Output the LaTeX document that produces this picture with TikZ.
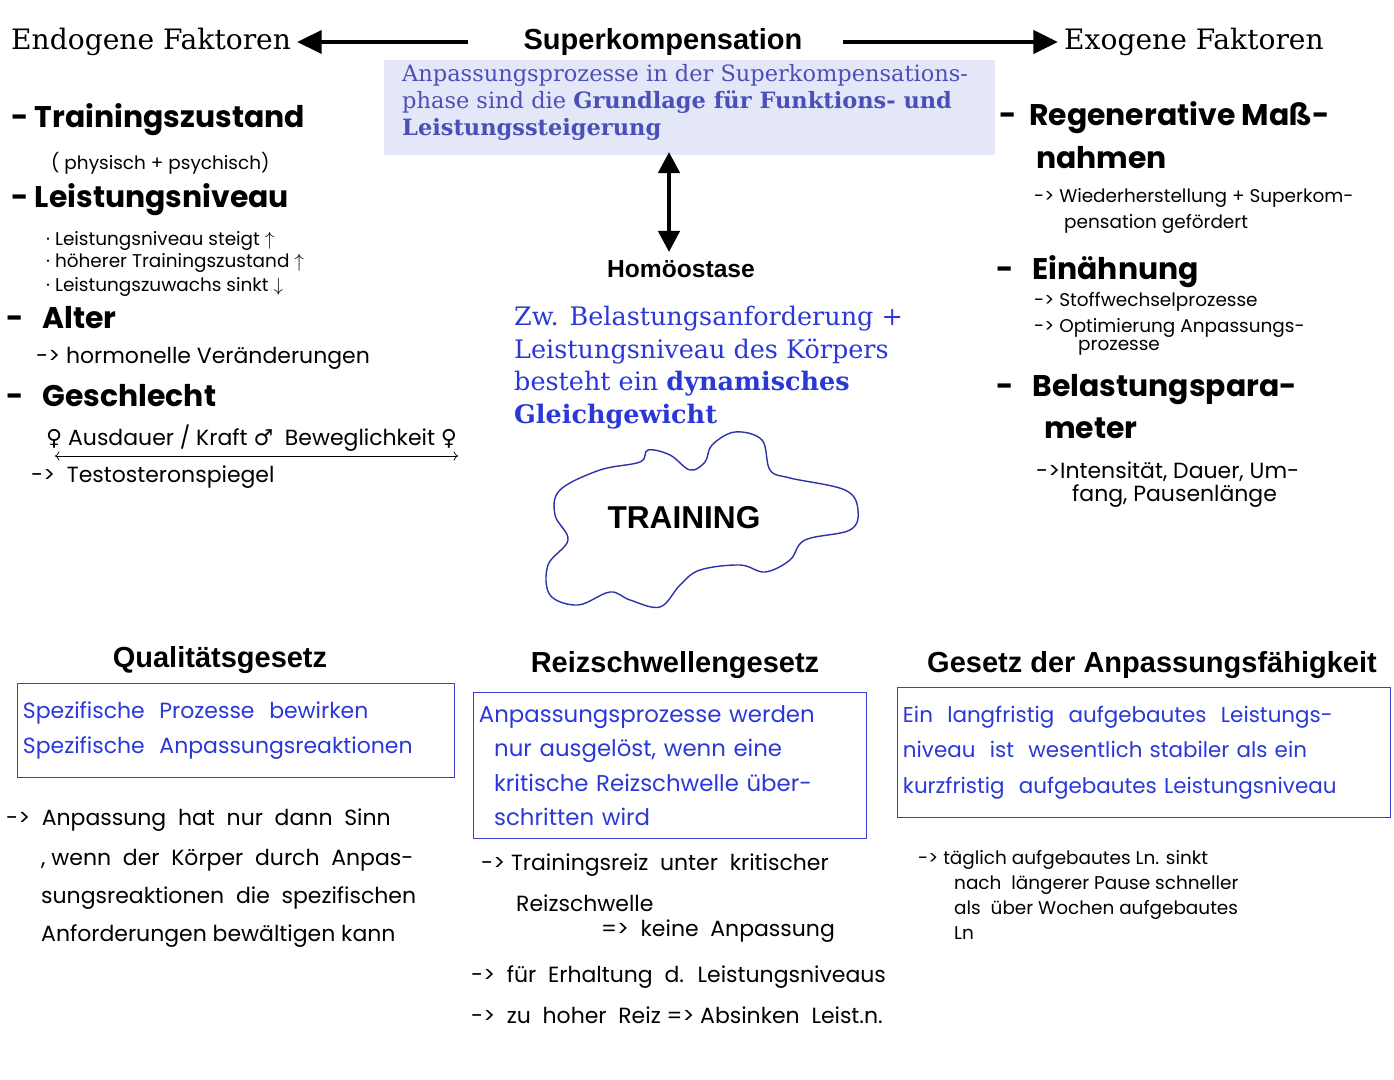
\documentclass[tikz,border=0pt]{standalone}
\usepackage{fontspec}
\setmainfont{DejaVu Serif}
\newfontfamily\hand{Poppins}
\newfontfamily\headsans{Liberation Sans}
\newfontfamily\symb{DejaVu Sans}
\usetikzlibrary{positioning,arrows.meta}
\definecolor{boxblue}{HTML}{3A3FD0}
\definecolor{softblue}{HTML}{4A50B8}
\definecolor{lavender}{HTML}{E4E7F8}
\definecolor{lawblue}{HTML}{2B38D8}

\tikzset{
  serifhead/.style={anchor=west, font=\fontsize{16}{18}\selectfont},
  bighead/.style={font=\headsans\bfseries\fontsize{16.5}{18}\selectfont},
  bighand/.style={anchor=west, font=\hand\bfseries\fontsize{17}{20}\selectfont},
  smallhand/.style={anchor=west, font=\hand\fontsize{10.5}{12}\selectfont},
  midhand/.style={anchor=west, font=\hand\fontsize{12.5}{15}\selectfont},
  lawbox/.style={draw=boxblue, thick, anchor=north west, inner sep=3pt, align=left, text=lawblue},
  bigtip/.style={line width=2.5pt, -{Triangle[length=14pt,width=13pt]}},
}

\begin{document}
\begin{tikzpicture}[x=0.2mm, y=-0.2mm]
  \useasboundingbox (0,0) rectangle (1394,1080);

  % top row
  \node[serifhead] (endo) at (5,42) {Endogene Faktoren};
  \node[bighead] (superk) at (663,42) {Superkompensation};
  \node[serifhead] (exo) at (1058,42) {Exogene Faktoren};
  \coordinate (leftend) at (468,42);
  \coordinate (rightend) at (843,42);
  \draw[bigtip] (leftend) -- (endo.east);
  \draw[bigtip] (rightend) -- (exo.west);

  \node[fill=lavender, anchor=north west, minimum width=611*0.2mm, minimum height=95*0.2mm] (skbox) at (384,60) {};
  \node[anchor=north west, text=softblue, align=left, font=\fontsize{12.8}{15.5}\selectfont] (sktext) at (396,58)
    {Anpassungsprozesse in der Superkompensations-\\phase sind die \textbf{Grundlage für Funktions- und}\\\textbf{Leistungssteigerung}};

  % homeostasis
  \node[font=\headsans\bfseries\fontsize{14}{16}\selectfont] (homoe) at (681,269) {Homöostase};
  \coordinate (hTop) at (669,152);
  \coordinate (hBot) at (669,252);
  \draw[line width=2.5pt, {Triangle[length=12pt,width=12pt]}-{Triangle[length=12pt,width=12pt]}] (hTop) -- (hBot);
  \node[anchor=north west, text=lawblue, align=left, font=\fontsize{14.5}{18.5}\selectfont] (dyn) at (508,300)
    {Zw. Belastungsanforderung +\\Leistungsniveau des Körpers\\besteht ein \textbf{dynamisches}\\\textbf{Gleichgewicht}};

  % training blob
  \draw[boxblue!80!black, thick] plot[smooth cycle, tension=0.6] coordinates {
    (560,490) (600,470) (640,462) (648,450) (670,455) (690,470) (705,462) (712,445) (735,432) (762,440) (770,470)
    (790,478) (845,490) (858,510) (850,530) (805,540) (790,560) (765,572) (740,565) (700,570) (680,585) (660,607)
    (630,600) (610,592) (578,605) (550,595) (548,565) (568,540) (555,515)};
  \node[font=\headsans\bfseries\fontsize{18}{20}\selectfont] (train) at (684,518) {TRAINING};

  % endogenous list
  \node[bighand] (e1) at (5,120) {- Trainingszustand};
  \node[smallhand] (e1a) at (45,163) {( physisch + psychisch)};
  \node[bighand] (e2) at (5,200) {- Leistungsniveau};
  \node[smallhand] (e2a) at (40,241) {· Leistungsniveau steigt $\uparrow$};
  \node[smallhand] (e2b) at (40,263) {· höherer Trainingszustand $\uparrow$};
  \node[smallhand] (e2c) at (40,287) {· Leistungszuwachs sinkt $\downarrow$};
  \node[bighand] (e3) at (0,318) {- \ \ Alter};
  \node[midhand] (e3a) at (30,358) {-> hormonelle Veränderungen};
  \node[bighand] (e4) at (0,396) {- \ \ Geschlecht};
  \node[midhand] (e4a) at (40,438) {{\symb ♀} Ausdauer / Kraft {\symb ♂} \ Beweglichkeit {\symb ♀}};
  \node[midhand] (e4b) at (25,477) {-> \ Testosteronspiegel};
  \coordinate (arL) at (55,456);
  \coordinate (arR) at (458,456);
  \draw[<->] (arL) -- (arR);

  % exogenous list
  \node[bighand] (x1) at (993,118) {- \ Regenerative Maß-};
  \node[bighand] (x1b) at (1030,158) {nahmen};
  \node[smallhand] (x1c) at (1028,198) {-> Wiederherstellung + Superkom-};
  \node[smallhand] (x1d) at (1058,224) {pensation gefördert};
  \node[bighand] (x2) at (990,272) {- \ \ Einähnung};
  \node[smallhand] (x2a) at (1028,302) {-> Stoffwechselprozesse};
  \node[smallhand] (x2b) at (1028,328) {-> Optimierung Anpassungs-};
  \node[smallhand] (x2c) at (1072,348) {prozesse};
  \node[bighand] (x3) at (990,390) {- \ \ Belastungspara-};
  \node[bighand] (x3b) at (1038,428) {meter};
  \node[midhand] (x3c) at (1030,472) {->Intensität, Dauer, Um-};
  \node[midhand] (x3d) at (1066,496) {fang, Pausenlänge};

  % laws
  \node[bighead] (qual) at (220,660) {Qualitätsgesetz};
  \node[bighead] (reiz) at (675,665) {Reizschwellengesetz};
  \node[bighead] (anpg) at (1152,665) {Gesetz der Anpassungsfähigkeit};

  \node[lawbox, text width=426*0.2mm, minimum height=94*0.2mm,
    font=\hand\fontsize{12.5}{20}\selectfont] (qbox) at (17,683)
    {Spezifische \ Prozesse \ bewirken\\Spezifische \ Anpassungsreaktionen};
  \node[lawbox, text width=382*0.2mm, minimum height=146*0.2mm,
    font=\hand\fontsize{13}{19.5}\selectfont] (rbox) at (473,692)
    {Anpassungsprozesse werden\\\ \ nur ausgelöst, wenn eine\\\ \ kritische Reizschwelle über-\\\ \ schritten wird};
  \node[lawbox, text width=482*0.2mm, minimum height=130*0.2mm,
    font=\hand\fontsize{12.2}{20}\selectfont] (abox) at (897,687)
    {Ein \ langfristig \ aufgebautes \ Leistungs-\\niveau \ ist \ wesentlich stabiler als ein\\kurzfristig \ aufgebautes Leistungsniveau};

  \node[midhand] (q1) at (0,820) {-> \ Anpassung \ hat \ nur \ dann \ Sinn};
  \node[midhand] (q2) at (35,860) {, wenn \ der \ Körper \ durch \ Anpas-};
  \node[midhand] (q3) at (35,898) {sungsreaktionen \ die \ spezifischen};
  \node[midhand] (q4) at (35,936) {Anforderungen bewältigen kann};

  \node[midhand] (r1) at (475,865) {-> Trainingsreiz \ unter \ kritischer};
  \node[midhand] (r2) at (510,903) {Reizschwelle};
  \node[midhand] (r3) at (595,931) {=> \ keine \ Anpassung};
  \node[midhand] (r4) at (465,977) {-> \ für \ Erhaltung \ d. \ Leistungsniveaus};
  \node[midhand] (r5) at (465,1015) {-> \ zu \ hoher \ Reiz => Absinken \ Leist.n.};

  \node[smallhand] (a1) at (912,860) {-> täglich aufgebautes Ln. sinkt};
  \node[smallhand] (a2) at (948,885) {nach \ längerer Pause schneller};
  \node[smallhand] (a3) at (948,910) {als \ über Wochen aufgebautes};
  \node[smallhand] (a4) at (948,933) {Ln};
\end{tikzpicture}
\end{document}
